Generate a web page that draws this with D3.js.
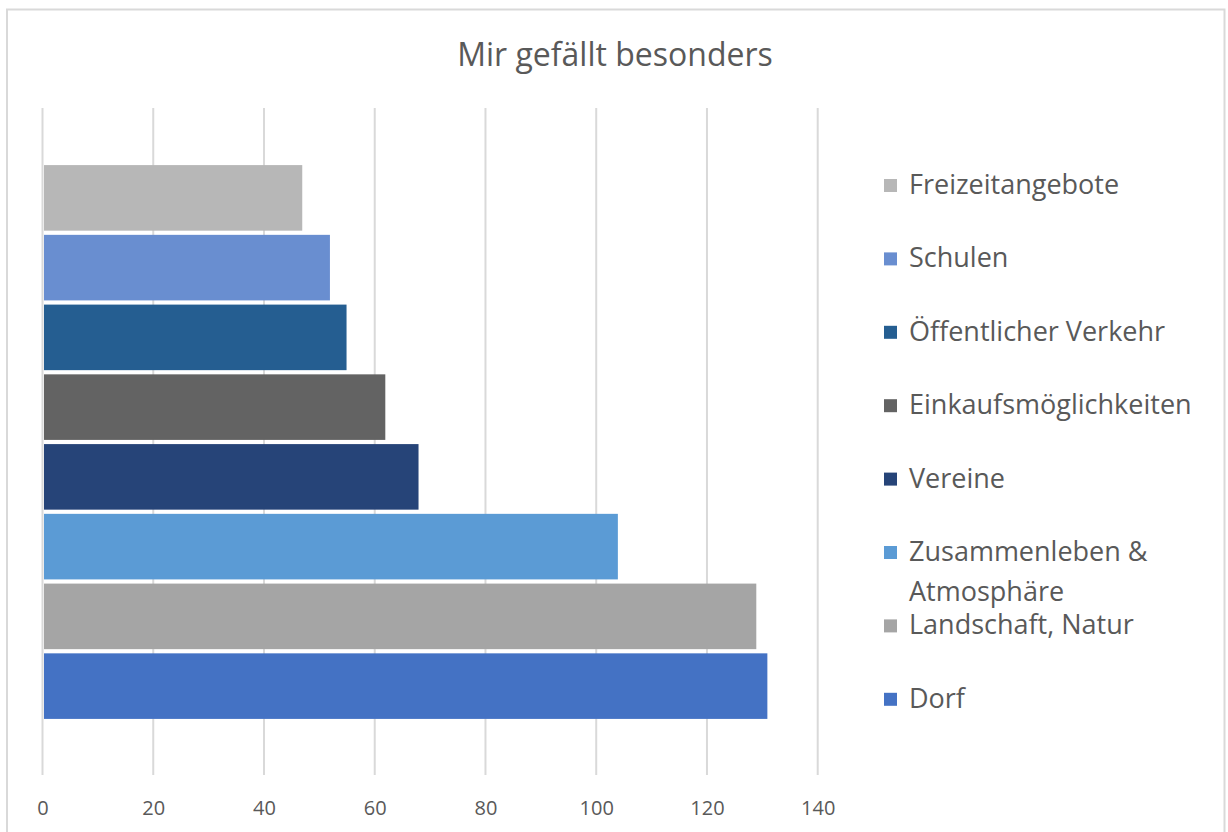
<!DOCTYPE html>
<html>
<head>
<meta charset="utf-8">
<script src="https://cdn.jsdelivr.net/npm/d3@7"></script>
<style>
  body { margin: 0; background: #fff; }
  text { font-family: "Open Sans", Lato, sans-serif; fill: #595959; }
</style>
</head>
<body>
<script>
var w = 1228;
var h = 832;

// data, bottom bar first (as in the source chart)
var categories = ["Dorf", "Landschaft, Natur", "Zusammenleben & Atmosphäre", "Vereine",
                  "Einkaufsmöglichkeiten", "Öffentlicher Verkehr", "Schulen", "Freizeitangebote"];
var values = [131, 129, 104, 68, 62, 55, 52, 47];
var colors = ["#4472C4", "#A5A5A5", "#5B9BD5", "#264478", "#636363", "#255E91", "#698ED0", "#B7B7B7"];
var ticks = [0, 20, 40, 60, 80, 100, 120, 140];
var title = "Mir gefällt besonders";

var svg = d3.select("body")
            .append("svg")
            .attr("width", w)
            .attr("height", h);

// chart frame
svg.append("rect")
   .attr("x", 7).attr("y", 9.5)
   .attr("width", 1217.5).attr("height", 900)
   .attr("fill", "#fff")
   .attr("stroke", "#d9d9d9")
   .attr("stroke-width", 2);

svg.append("text")
   .attr("x", 615).attr("y", 66)
   .attr("text-anchor", "middle")
   .attr("font-size", 32)
   .text(title);

var x = d3.scaleLinear().domain([0, 140]).range([42.5, 817.7]);

// top of plot = last series
var y = d3.scaleBand()
          .domain(categories.slice().reverse())
          .range([163, 721])
          .paddingInner(0.06)
          .paddingOuter(0.03);

/** gridlines **/
svg.append("g")
   .selectAll("line")
   .data(ticks)
   .enter()
   .append("line")
   .attr("x1", function(d){ return x(d); })
   .attr("x2", function(d){ return x(d); })
   .attr("y1", 108)
   .attr("y2", 775)
   .attr("stroke", "#d9d9d9")
   .attr("stroke-width", 2);

/** bars **/
svg.append("g")
   .selectAll("rect")
   .data(values)
   .enter()
   .append("rect")
   .attr("x", x(0) + 1.5)
   .attr("y", function(d, i){ return y(categories[i]); })
   .attr("width", function(d){ return x(d) - x(0) - 2; })
   .attr("height", y.bandwidth())
   .attr("fill", function(d, i){ return colors[i]; });

/** x axis labels **/
var axis = d3.axisBottom(x).tickValues(ticks).tickSize(0).tickPadding(0);
var ax = svg.append("g")
   .attr("transform", "translate(0,800)")
   .call(axis);
ax.select(".domain").remove();
ax.selectAll("text")
  .attr("font-size", 20)
  .attr("dy", 0)
  .attr("y", 15)
  .style("font-family", "'Open Sans', Lato, sans-serif")
  .style("fill", "#595959");

/** legend, top entry = last series **/
var order = d3.range(categories.length).reverse();
var leg = svg.append("g")
   .selectAll("g")
   .data(order)
   .enter()
   .append("g")
   .attr("transform", function(d, j){ return "translate(884," + (194 + j * 73.4) + ")"; });

leg.append("rect")
   .attr("x", 0).attr("y", -15)
   .attr("width", 13).attr("height", 13)
   .attr("fill", function(d){ return colors[d]; });

leg.append("text")
   .attr("x", 25)
   .attr("font-size", 27)
   .each(function(d){
     var t = d3.select(this);
     var words = categories[d].split(" ");
     var line = [];
     var tspan = t.append("tspan").attr("x", 25).attr("dy", 0);
     words.forEach(function(wd){
       line.push(wd);
       tspan.text(line.join(" "));
       if (tspan.node().getComputedTextLength() > 310 && line.length > 1) {
         line.pop();
         tspan.text(line.join(" "));
         line = [wd];
         tspan = t.append("tspan").attr("x", 25).attr("dy", 40).text(wd);
       }
     });
   });
</script>
</body>
</html>
